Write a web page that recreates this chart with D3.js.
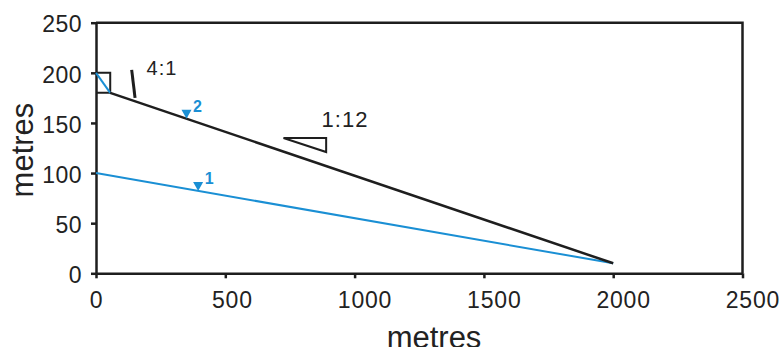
<!DOCTYPE html>
<html>
<head>
<meta charset="utf-8">
<script src="https://cdn.jsdelivr.net/npm/d3@7"></script>
<style>
  body { margin: 0; background: #fff; }
  text { font-family: "Liberation Sans", Arial, sans-serif; fill: #222; }
</style>
</head>
<body>
<div id="chart"></div>
<script>
let width = 783;
let height = 347;

// x ticks and y ticks (metres)
let xTicks = [0, 500, 1000, 1500, 2000, 2500]
let yTicks = [0, 50, 100, 150, 200, 250]

// profile lines [x, y]
let surface2 = [[55, 180], [2000, 10]]
let surface1 = [[0, 100], [2000, 10]]
let steepFace = [[0, 200], [55, 180]]
let boxCorner = [[0, 200], [55, 200], [55, 180], [0, 180]]

// slope marks
let steepTick = [[138, 203], [151, 175]]
let slopeTriangle = [[725, 135], [890, 135], [890, 121]]

// water level markers
let markers = [
    {label: "2", x: 350, line: surface2},
    {label: "1", x: 395, line: surface1}
]

let labels = [
    {text: "4:1", x: 255, y: 197.5, size: 20},
    {text: "1:12", x: 963, y: 146, size: 22}
]

let margin = {left: 96, right: 40.5, top: 22.7, bottom: 73.7}

let svg = d3.select('#chart')
            .append('svg')
            .attr('width', width)
            .attr('height', height)

let xScale = d3.scaleLinear()
                .domain([0, 2500])
                .range([margin.left, width - margin.right])
let yScale = d3.scaleLinear()
                .domain([0, 250])
                .range([height - margin.bottom, margin.top])

let blue = "#1a8fd4"
let ink = "#1e1e1e"

// frame (top and right)
svg.append('path')
    .attr('d', d3.line()([[xScale(0), yScale(250)], [xScale(2500), yScale(250)], [xScale(2500), yScale(0)]]))
    .attr('fill', 'none')
    .attr('stroke', ink)
    .attr('stroke-width', 2.5)

let xAxis = d3.axisBottom(xScale)
                .tickValues(xTicks)
                .tickFormat(d3.format('d'))
                .tickSize(5)
                .tickSizeOuter(0)
                .tickPadding(13)
let gx = svg.append('g')
    .attr('transform', "translate(0," + yScale(0) + ")")
    .call(xAxis)
gx.selectAll('text')
    .style('font-size', '23px')
    .style('letter-spacing', '0.8px')
    .attr('dx', d => (String(d).length - 1) * 3.3)

let yAxis = d3.axisLeft(yScale)
                .tickValues(yTicks)
                .tickFormat(d3.format('d'))
                .tickSize(5)
                .tickSizeOuter(0)
                .tickPadding(9)
let gy = svg.append('g')
    .attr('transform', "translate(" + xScale(0) + ",0)")
    .call(yAxis)
gy.selectAll('text')
    .style('font-size', '23px')
    .style('letter-spacing', '0.5px')
    .attr('dy', '0.4em')

svg.selectAll('.domain, .tick line')
    .attr('stroke', ink)
    .attr('stroke-width', 2.5)
svg.selectAll('.tick text').attr('fill', ink).style('font-family', '"Liberation Sans", Arial, sans-serif')

// axis titles
svg.append('text')
    .attr('x', 434)
    .attr('y', 348)
    .attr('text-anchor', 'middle')
    .style('font-size', '31px')
    .text('metres')
svg.append('text')
    .attr('transform', "translate(33,150) rotate(-90)")
    .attr('text-anchor', 'middle')
    .style('font-size', '31px')
    .text('metres')

let line = d3.line()
    .x(d => xScale(d[0]))
    .y(d => yScale(d[1]))

svg.append('path')
    .attr('d', line(surface1))
    .attr('fill', 'none')
    .attr('stroke', blue)
    .attr('stroke-width', 2)

svg.append('path')
    .attr('d', line(boxCorner))
    .attr('fill', 'none')
    .attr('stroke', ink)
    .attr('stroke-width', 2)

svg.append('path')
    .attr('d', line(steepFace))
    .attr('fill', 'none')
    .attr('stroke', blue)
    .attr('stroke-width', 2)

svg.append('path')
    .attr('d', line(surface2))
    .attr('fill', 'none')
    .attr('stroke', ink)
    .attr('stroke-width', 2.5)

svg.append('path')
    .attr('d', line(steepTick))
    .attr('fill', 'none')
    .attr('stroke', ink)
    .attr('stroke-width', 3)

svg.append('path')
    .attr('d', line(slopeTriangle) + "Z")
    .attr('fill', 'none')
    .attr('stroke', ink)
    .attr('stroke-width', 2)

labels.forEach(l => {
    svg.append('text')
        .attr('x', xScale(l.x))
        .attr('y', yScale(l.y))
        .attr('text-anchor', 'middle')
        .style('font-size', l.size + 'px')
        .style('letter-spacing', '1px')
        .text(l.text)
})

// inverted triangle markers sitting on the lines
markers.forEach(m => {
    let a = m.line[0], b = m.line[1]
    let yv = a[1] + (b[1] - a[1]) * (m.x - a[0]) / (b[0] - a[0])
    let px = xScale(m.x), py = yScale(yv)
    svg.append('path')
        .attr('d', "M" + (px - 5) + "," + (py - 9) + "L" + (px + 5) + "," + (py - 9) + "L" + px + "," + py + "Z")
        .attr('fill', blue)
    svg.append('text')
        .attr('x', px + 6.5)
        .attr('y', py - 6.5)
        .style('font-size', '16px')
        .style('font-weight', 'bold')
        .attr('fill', blue)
        .style('fill', blue)
        .text(m.label)
})
</script>
</body>
</html>
